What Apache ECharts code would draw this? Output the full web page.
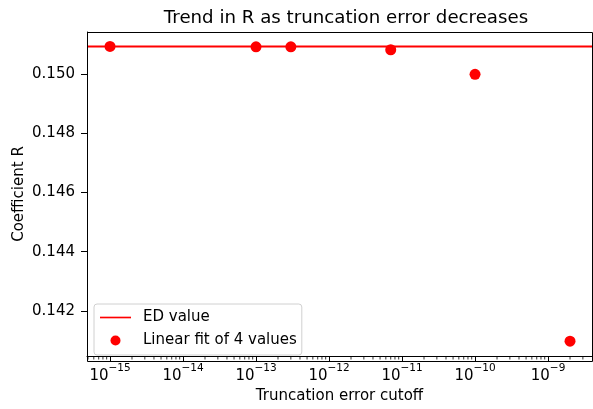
<!DOCTYPE html>
<html>
<head>
<meta charset="utf-8">
<script src="https://cdn.jsdelivr.net/npm/echarts@6/dist/echarts.min.js"></script>
<style>
  html, body { margin: 0; padding: 0; background: #fff; }
  #container { width: 593px; height: 409px; }
</style>
</head>
<body>
<div id="container"></div>
<script>
  // data
  const cutoffs = [1e-15, 1e-13, 3e-13, 7e-12, 1e-10, 2e-9]
  const fitValues = [0.15094, 0.15093, 0.15093, 0.15083, 0.15000, 0.14097]
  const edValue = 0.15094
  const xMin = 4.84e-16
  const xMax = 4.0e-9
  const yMin = 0.14047
  const yMax = 0.15143
  // minor tick positions (2..9 x 10^n)
  const minorTicks = []
  for (let e = -16; e <= -9; e++) {
    for (let m = 2; m <= 9; m++) {
      const v = m * Math.pow(10, e)
      if (v > xMin && v < xMax) minorTicks.push(v)
    }
  }

  const font = 'DejaVu Sans'
  const fs = 15
  function expLabel(v) {
    const e = Math.round(Math.log10(v))
    return '{b|10}{s|' + String(e).replace('-', '−') + '}'
  }

  const chart = echarts.init(document.getElementById('container'), null, { renderer: 'canvas' })
  chart.setOption({
    animation: false,
    title: {
      text: 'Trend in R as truncation error decreases',
      left: 341, top: 4, textAlign: 'center',
      textStyle: { fontFamily: font, fontSize: 18.2, fontWeight: 'normal', color: '#000' }
    },
    grid: { left: 87, right: 1, top: 32, bottom: 48 },
    legend: {
      orient: 'vertical',
      left: 94, top: 304,
      padding: [6, 5, 7, 6],
      itemGap: 8,
      itemWidth: 31, itemHeight: 10,
      backgroundColor: '#fff',
      borderColor: '#d0d0d0', borderWidth: 1, borderRadius: 3,
      textStyle: { fontFamily: font, fontSize: fs, color: '#000', padding: [0, 0, 0, 7] },
      data: [
        { name: 'ED value', icon: 'path://M0,4.2H30V5.8H0Z' },
        { name: 'Linear fit of 4 values', icon: 'circle' }
      ]
    },
    xAxis: {
      type: 'log', logBase: 10, min: xMin, max: xMax,
      name: 'Truncation error cutoff', nameLocation: 'middle', nameGap: 33,
      nameTextStyle: { fontFamily: font, fontSize: fs, color: '#000' },
      axisLine: { onZero: false, lineStyle: { color: '#000', width: 1 } },
      axisTick: { inside: false, length: 6, lineStyle: { color: '#000' } },
      splitLine: { show: false },
      axisLabel: {
        showMinLabel: false, showMaxLabel: false, margin: 7,
        formatter: expLabel,
        rich: {
          b: { fontFamily: font, fontSize: fs, color: '#000', padding: [6, 0, 0, 0] },
          s: { fontFamily: font, fontSize: 10.5, color: '#000', verticalAlign: 'top', padding: [0, 0, 8, 0] }
        }
      }
    },
    yAxis: {
      type: 'value', min: yMin, max: yMax, splitNumber: 5,
      name: 'Coefficient R', nameLocation: 'middle', nameGap: 60,
      nameMoveOverlap: false,
      nameTextStyle: { fontFamily: font, fontSize: fs, color: '#000' },
      axisLine: { show: true, lineStyle: { color: '#000', width: 1 } },
      axisTick: { show: true, length: 6, lineStyle: { color: '#000' } },
      splitLine: { show: false },
      axisLabel: {
        showMinLabel: false, showMaxLabel: false, margin: 12,
        fontFamily: font, fontSize: fs, color: '#000',
        formatter: v => v.toFixed(3)
      }
    },
    series: [
      {
        name: 'ED value', type: 'line', color: '#ff0000',
        showSymbol: false, symbol: 'none',
        lineStyle: { color: '#ff0000', width: 2 },
        data: [[xMin, edValue], [xMax, edValue]],
        z: 2
      },
      {
        name: 'Linear fit of 4 values', type: 'scatter', color: '#ff0000',
        symbol: 'circle', symbolSize: 11,
        itemStyle: { color: '#ff0000', opacity: 1 },
        data: cutoffs.map((c, i) => [c, fitValues[i]]),
        z: 3
      },
      {
        // minor ticks on the log axis
        type: 'custom', silent: true, clip: false, legendHoverLink: false,
        data: minorTicks.map(v => [v, yMin]),
        renderItem: (params, api) => {
          const p = api.coord([api.value(0), yMin])
          return {
            type: 'line',
            shape: { x1: p[0], y1: p[1], x2: p[0], y2: p[1] + 3.5 },
            style: { stroke: '#000', lineWidth: 0.8 }
          }
        },
        z: 1
      }
    ],
    graphic: [{
      type: 'rect', silent: true, z: 100,
      shape: { x: 87.5, y: 32.5, width: 505, height: 329 },
      style: { fill: 'none', stroke: '#000', lineWidth: 1 }
    }]
  })
</script>
</body>
</html>
